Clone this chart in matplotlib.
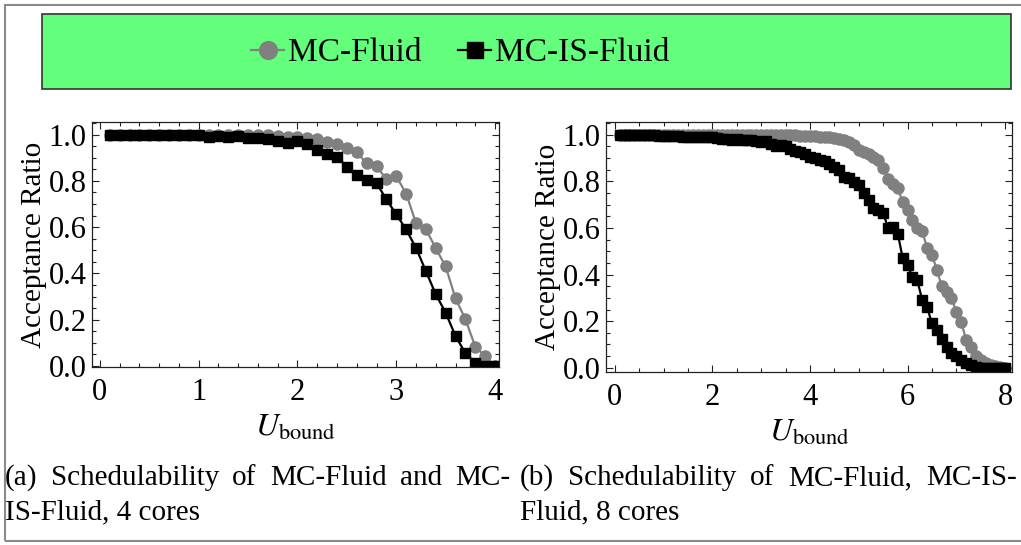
import matplotlib
matplotlib.use('Agg')
import matplotlib.pyplot as plt
import numpy as np
from matplotlib.patches import Rectangle
from matplotlib.ticker import MultipleLocator

plt.rcParams['font.family'] = ['Liberation Serif', 'DejaVu Serif']
plt.rcParams['mathtext.fontset'] = 'stix'

# 4 cores: U_bound = 0.1 ... 4.0
u4 = np.round(np.arange(1, 41) * 0.1, 1)
fluid4 = [1.0, 1.0, 1.0, 1.0, 1.0, 1.0, 1.0, 1.0, 1.0, 1.0,
          0.999, 0.999, 0.998, 0.998, 0.997, 0.997, 0.996, 0.995, 0.99, 0.99,
          0.985, 0.979, 0.966, 0.957, 0.94, 0.923, 0.876, 0.862, 0.808, 0.819,
          0.745, 0.617, 0.591, 0.509, 0.43, 0.292, 0.202, 0.084, 0.043, 0.0]
is_fluid4 = [0.998, 0.998, 0.998, 0.998, 0.997, 0.998, 0.997, 0.997, 0.997, 0.998,
             0.99, 0.995, 0.99, 0.995, 0.985, 0.985, 0.98, 0.97, 0.965, 0.97,
             0.957, 0.935, 0.915, 0.905, 0.86, 0.825, 0.805, 0.79, 0.72, 0.655,
             0.59, 0.51, 0.41, 0.31, 0.23, 0.13, 0.055, 0.015, 0.0, 0.0]

# 8 cores: U_bound = 0.1 ... 8.0
u8 = np.round(np.arange(1, 81) * 0.1, 1)
fluid8 = [1.0, 1.0, 1.0, 1.0, 1.0, 1.0, 1.0, 1.0, 1.0, 1.0,
          1.0, 1.0, 1.0, 1.0, 1.0, 1.0, 1.0, 1.0, 1.0, 1.0,
          1.0, 1.0, 1.0, 1.0, 1.0, 1.0, 1.0, 1.0, 1.0, 1.0,
          0.999, 0.999, 0.999, 0.999, 0.998, 0.998, 0.997, 0.996, 0.995, 0.994,
          0.993, 0.99, 0.988, 0.99, 0.985, 0.982, 0.975, 0.97, 0.955, 0.935,
          0.925, 0.915, 0.905, 0.89, 0.855, 0.81, 0.79, 0.77, 0.71, 0.675,
          0.635, 0.6, 0.585, 0.515, 0.485, 0.42, 0.35, 0.325, 0.3, 0.24,
          0.195, 0.12, 0.09, 0.05, 0.035, 0.022, 0.012, 0.006, 0.002, 0.0]
is_fluid8 = [0.998, 0.998, 0.998, 0.998, 0.997, 0.998, 0.997, 0.997, 0.996, 0.996,
             0.995, 0.994, 0.992, 0.99, 0.99, 0.991, 0.99, 0.989, 0.99, 0.99,
             0.985, 0.983, 0.98, 0.978, 0.979, 0.977, 0.975, 0.976, 0.974, 0.97,
             0.972, 0.96, 0.95, 0.955, 0.952, 0.94, 0.93, 0.925, 0.915, 0.905,
             0.9, 0.89, 0.885, 0.875, 0.86, 0.85, 0.82, 0.815, 0.795, 0.785,
             0.75, 0.72, 0.685, 0.675, 0.665, 0.6, 0.605, 0.575, 0.47, 0.44,
             0.39, 0.375, 0.29, 0.26, 0.19, 0.16, 0.125, 0.09, 0.065, 0.05,
             0.035, 0.02, 0.01, 0.003, 0.0, 0.0, 0.0, 0.0, 0.0, 0.0]

series_names = ['MC-Fluid', 'MC-IS-Fluid']
captions = [
    ['(a) Schedulability of MC-Fluid and MC-', 'IS-Fluid, 4 cores'],
    ['(b) Schedulability of MC-Fluid, MC-IS-', 'Fluid, 8 cores'],
]

W, H = 1021, 545
GREY = '#808080'


def px(x0, y0, x1, y1):
    # pixel box (top-left origin) -> figure fraction rect
    return [x0 / W, 1 - y1 / H, (x1 - x0) / W, (y1 - y0) / H]


def style_axes(ax, xminor, xmajor):
    ax.xaxis.set_major_locator(MultipleLocator(xmajor))
    ax.xaxis.set_minor_locator(MultipleLocator(xminor))
    ax.yaxis.set_major_locator(MultipleLocator(0.2))
    ax.yaxis.set_minor_locator(MultipleLocator(0.05))
    ax.yaxis.set_major_formatter(lambda v, p: f'{v:.1f}')
    ax.tick_params(which='both', direction='in', top=True, right=True,
                   labelsize=22, width=0.8, color='#222222')
    ax.tick_params(which='major', length=5, pad=4)
    ax.tick_params(which='minor', length=3)
    ax.tick_params(axis='x', which='major', pad=8)
    for s in ax.spines.values():
        s.set_linewidth(0.9)
        s.set_color('#222222')
    ax.set_ylabel('Acceptance Ratio', fontsize=21, labelpad=1)
    ax.set_xlabel(r'$U_{\mathrm{bound}}$', fontsize=23, labelpad=5)


def justify(fig, text, x0, x1, y, size):
    words = text.split(' ')
    items = [fig.text(0, 1 - y / H, w, fontsize=size, va='center', ha='left')
             for w in words]
    r = fig.canvas.get_renderer()
    widths = [t.get_window_extent(r).width for t in items]
    gap = (x1 - x0 - sum(widths)) / (len(words) - 1)
    x = x0
    for t, w in zip(items, widths):
        t.set_x(x / W)
        x += w + gap


fig = plt.figure(figsize=(W / 100, H / 100), dpi=100)

# outer frame and legend background
fig.patches.append(Rectangle((4.5 / W, 1 - 541 / H), 1030 / W, 536.5 / H,
                             transform=fig.transFigure, fill=False,
                             edgecolor='#8a8a8a', linewidth=1.5))
fig.patches.append(Rectangle((42 / W, 1 - 89 / H), 969 / W, 75 / H,
                             transform=fig.transFigure, facecolor='#63FF7C',
                             edgecolor='#333333', linewidth=1.2))

ax1 = fig.add_axes(px(92, 122, 499, 367))
ax2 = fig.add_axes(px(606, 122, 1012, 372))

l1, = ax1.plot(u4, fluid4, color=GREY, marker='o', ms=8, lw=1.6,
               label=series_names[0])
l2, = ax1.plot(u4, is_fluid4, color='black', marker='s', ms=7, lw=1.6,
               label=series_names[1])
ax1.set_xlim(-0.08, 4.04)
ax1.set_ylim(-0.004, 1.054)
style_axes(ax1, 0.2, 1)

ax2.plot(u8, fluid8, color=GREY, marker='o', ms=8, lw=1.6)
ax2.plot(u8, is_fluid8, color='black', marker='s', ms=7, lw=1.6)
ax2.set_xlim(-0.18, 8.14)
ax2.set_ylim(-0.018, 1.054)
style_axes(ax2, 0.5, 2)

fig.legend(handles=[l1, l2], loc='center', bbox_to_anchor=(460 / W, 1 - 53 / H),
           ncol=2, frameon=False, fontsize=24, handlelength=1.0,
           handletextpad=0.1, columnspacing=1.1, numpoints=1, markerscale=1.6)

for (line1, line2), (x0, x1) in zip(captions, [(5, 510), (520, 1017)]):
    justify(fig, line1, x0, x1, 478, 21)
    fig.text(x0 / W, 1 - 512 / H, line2, fontsize=21, va='center', ha='left')

fig.savefig('out.png', dpi=100)
